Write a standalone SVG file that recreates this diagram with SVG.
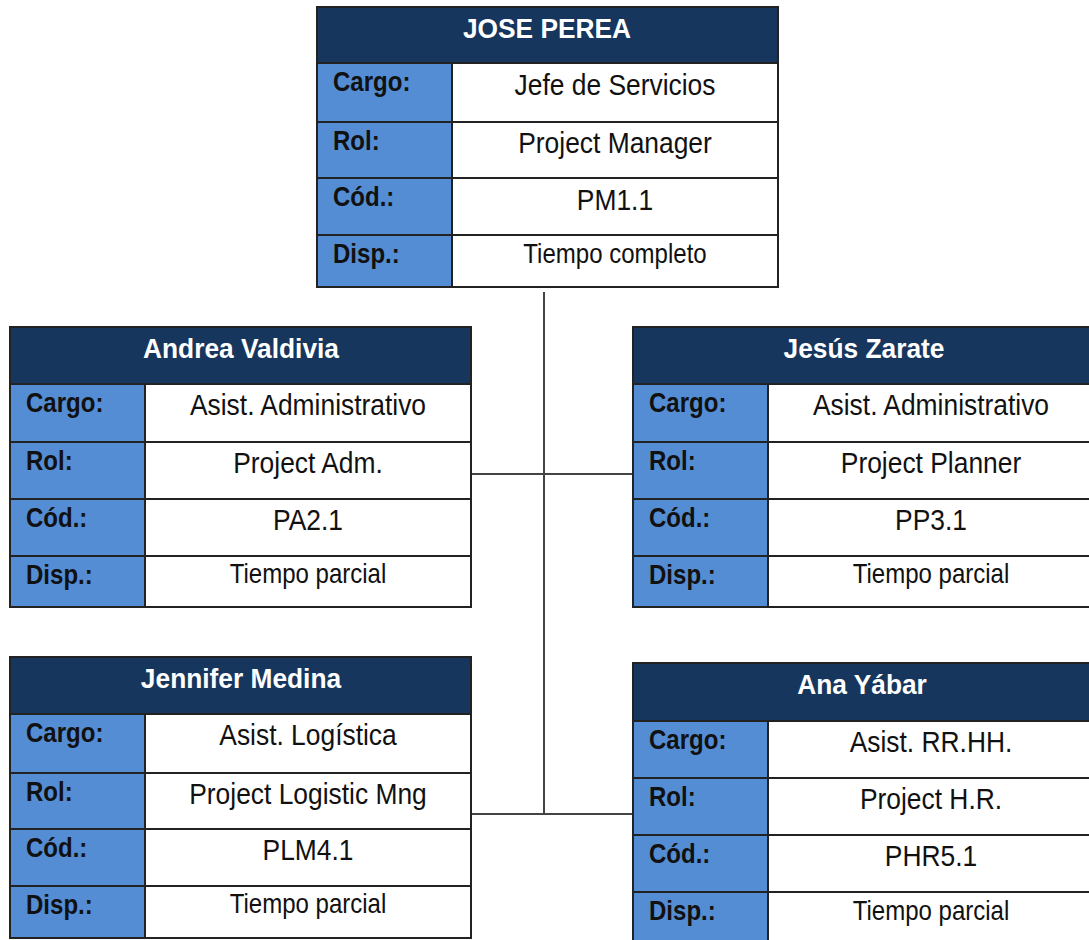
<svg xmlns="http://www.w3.org/2000/svg" width="1089" height="940" viewBox="0 0 1089 940">
  <style>
    .card { fill: #ffffff; stroke: #222222; stroke-width: 2; }
    .head { fill: #17365d; stroke: #222222; stroke-width: 2; }
    .lab { fill: #548dd4; stroke: #222222; stroke-width: 2; }
    .rule { stroke: #222222; stroke-width: 2; }
    .wire { stroke: #444444; stroke-width: 2; fill: none; }
    text { font-family: "Liberation Sans", Arial, sans-serif; fill: #111111; }
    .name { font-size: 28px; font-weight: bold; fill: #ffffff; text-anchor: middle; }
    .key { font-size: 27px; font-weight: bold; }
    .val { font-size: 29px; text-anchor: middle; }
    .val2 { font-size: 27px; text-anchor: middle; }
  </style>

  <!-- org-chart wiring -->
  <g id="connectors">
    <line class="wire" x1="544" y1="292" x2="544" y2="815"/>
    <line class="wire" x1="467" y1="474" x2="635" y2="474"/>
    <line class="wire" x1="467" y1="814" x2="635" y2="814"/>
  </g>

  <!-- Jose Perea -->
  <g id="jose-perea">
    <rect class="card" x="317" y="7" width="461" height="280"/>
    <rect class="head" x="317" y="7" width="461" height="56"/>
    <rect class="lab" x="317" y="63" width="135" height="224"/>
    <line class="rule" x1="317" y1="122" x2="778" y2="122"/>
    <line class="rule" x1="317" y1="178" x2="778" y2="178"/>
    <line class="rule" x1="317" y1="235" x2="778" y2="235"/>
    <text class="name" transform="translate(547 38) scale(0.94 1)">JOSE PEREA</text>
    <text class="key" transform="translate(333 91) scale(0.89 1)">Cargo:</text>
    <text class="key" transform="translate(333 150) scale(0.89 1)">Rol:</text>
    <text class="key" transform="translate(333 206) scale(0.89 1)">Cód.:</text>
    <text class="key" transform="translate(333 263) scale(0.89 1)">Disp.:</text>
    <text class="val" transform="translate(615 95) scale(0.91 1)">Jefe de Servicios</text>
    <text class="val" transform="translate(615 153) scale(0.91 1)">Project Manager</text>
    <text class="val" transform="translate(615 210) scale(0.91 1)">PM1.1</text>
    <text class="val2" transform="translate(615 263) scale(0.89 1)">Tiempo completo</text>
  </g>

  <!-- Andrea Valdivia -->
  <g id="andrea-valdivia">
    <rect class="card" x="10" y="327" width="461" height="280"/>
    <rect class="head" x="10" y="327" width="461" height="57"/>
    <rect class="lab" x="10" y="384" width="135" height="223"/>
    <line class="rule" x1="10" y1="442" x2="471" y2="442"/>
    <line class="rule" x1="10" y1="499" x2="471" y2="499"/>
    <line class="rule" x1="10" y1="556" x2="471" y2="556"/>
    <text class="name" transform="translate(241 358) scale(0.94 1)">Andrea Valdivia</text>
    <text class="key" transform="translate(26 412) scale(0.89 1)">Cargo:</text>
    <text class="key" transform="translate(26 470) scale(0.89 1)">Rol:</text>
    <text class="key" transform="translate(26 527) scale(0.89 1)">Cód.:</text>
    <text class="key" transform="translate(26 584) scale(0.89 1)">Disp.:</text>
    <text class="val" transform="translate(308 415) scale(0.91 1)">Asist. Administrativo</text>
    <text class="val" transform="translate(308 473) scale(0.91 1)">Project Adm.</text>
    <text class="val" transform="translate(308 530) scale(0.91 1)">PA2.1</text>
    <text class="val2" transform="translate(308 583) scale(0.89 1)">Tiempo parcial</text>
  </g>

  <!-- Jesus Zarate -->
  <g id="jesus-zarate">
    <rect class="card" x="633" y="327" width="461" height="280"/>
    <rect class="head" x="633" y="327" width="461" height="57"/>
    <rect class="lab" x="633" y="384" width="135" height="223"/>
    <line class="rule" x1="633" y1="442" x2="1094" y2="442"/>
    <line class="rule" x1="633" y1="499" x2="1094" y2="499"/>
    <line class="rule" x1="633" y1="556" x2="1094" y2="556"/>
    <text class="name" transform="translate(864 358) scale(0.94 1)">Jesús Zarate</text>
    <text class="key" transform="translate(649 412) scale(0.89 1)">Cargo:</text>
    <text class="key" transform="translate(649 470) scale(0.89 1)">Rol:</text>
    <text class="key" transform="translate(649 527) scale(0.89 1)">Cód.:</text>
    <text class="key" transform="translate(649 584) scale(0.89 1)">Disp.:</text>
    <text class="val" transform="translate(931 415) scale(0.91 1)">Asist. Administrativo</text>
    <text class="val" transform="translate(931 473) scale(0.91 1)">Project Planner</text>
    <text class="val" transform="translate(931 530) scale(0.91 1)">PP3.1</text>
    <text class="val2" transform="translate(931 583) scale(0.89 1)">Tiempo parcial</text>
  </g>

  <!-- Jennifer Medina -->
  <g id="jennifer-medina">
    <rect class="card" x="10" y="657" width="461" height="281"/>
    <rect class="head" x="10" y="657" width="461" height="57"/>
    <rect class="lab" x="10" y="714" width="135" height="224"/>
    <line class="rule" x1="10" y1="773" x2="471" y2="773"/>
    <line class="rule" x1="10" y1="829" x2="471" y2="829"/>
    <line class="rule" x1="10" y1="886" x2="471" y2="886"/>
    <text class="name" transform="translate(241 688) scale(0.94 1)">Jennifer Medina</text>
    <text class="key" transform="translate(26 742) scale(0.89 1)">Cargo:</text>
    <text class="key" transform="translate(26 801) scale(0.89 1)">Rol:</text>
    <text class="key" transform="translate(26 857) scale(0.89 1)">Cód.:</text>
    <text class="key" transform="translate(26 914) scale(0.89 1)">Disp.:</text>
    <text class="val" transform="translate(308 745) scale(0.91 1)">Asist. Logística</text>
    <text class="val" transform="translate(308 804) scale(0.91 1)">Project Logistic Mng</text>
    <text class="val" transform="translate(308 860) scale(0.91 1)">PLM4.1</text>
    <text class="val2" transform="translate(308 913) scale(0.89 1)">Tiempo parcial</text>
  </g>

  <!-- Ana Yabar -->
  <g id="ana-yabar">
    <rect class="card" x="633" y="663" width="461" height="290"/>
    <rect class="head" x="633" y="663" width="461" height="58"/>
    <rect class="lab" x="633" y="721" width="135" height="232"/>
    <line class="rule" x1="633" y1="778" x2="1094" y2="778"/>
    <line class="rule" x1="633" y1="835" x2="1094" y2="835"/>
    <line class="rule" x1="633" y1="892" x2="1094" y2="892"/>
    <text class="name" transform="translate(862 694) scale(0.94 1)">Ana Yábar</text>
    <text class="key" transform="translate(649 749) scale(0.89 1)">Cargo:</text>
    <text class="key" transform="translate(649 806) scale(0.89 1)">Rol:</text>
    <text class="key" transform="translate(649 863) scale(0.89 1)">Cód.:</text>
    <text class="key" transform="translate(649 920) scale(0.89 1)">Disp.:</text>
    <text class="val" transform="translate(931 752) scale(0.91 1)">Asist. RR.HH.</text>
    <text class="val" transform="translate(931 809) scale(0.91 1)">Project H.R.</text>
    <text class="val" transform="translate(931 866) scale(0.91 1)">PHR5.1</text>
    <text class="val2" transform="translate(931 920) scale(0.89 1)">Tiempo parcial</text>
  </g>
</svg>
